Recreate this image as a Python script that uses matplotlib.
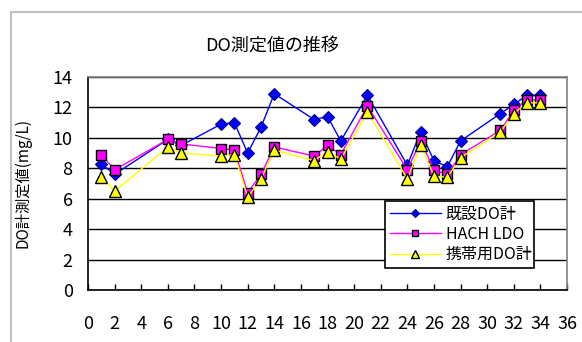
import matplotlib
matplotlib.use("Agg")
import matplotlib.pyplot as plt
from matplotlib.patches import Rectangle

plt.rcParams['font.family'] = ['Noto Sans CJK JP', 'DejaVu Sans']

# 測定日
days = [1, 2, 6, 7, 10, 11, 12, 13, 14, 17, 18, 19, 21, 24, 25, 26, 27, 28, 31, 32, 33, 34]
# 既設DO計
do_fixed = [8.3, 7.6, 9.9, 9.5, 10.9, 11.0, 9.0, 10.7, 12.9, 11.2, 11.4, 9.8, 12.8,
            8.2, 10.4, 8.5, 8.1, 9.8, 11.6, 12.2, 12.8, 12.8]
# HACH LDO
do_hach = [8.9, 7.9, 9.9, 9.6, 9.3, 9.2, 6.4, 7.6, 9.4, 8.8, 9.5, 8.9, 12.1,
           7.9, 9.8, 7.9, 7.6, 8.9, 10.5, 11.8, 12.5, 12.5]
# 携帯用DO計
do_portable = [7.4, 6.5, 9.4, 9.0, 8.8, 8.9, 6.1, 7.3, 9.2, 8.5, 9.1, 8.6, 11.7,
               7.3, 9.5, 7.5, 7.4, 8.7, 10.4, 11.6, 12.3, 12.3]

fig = plt.figure(figsize=(5.82, 3.42), dpi=100)
ax = fig.add_axes([88/582, 1-290/342, 479/582, 213/342])

# グラフエリアの枠
fig.patches.append(Rectangle((11/582, -0.1), 1.2, 1-12/342+0.1, transform=fig.transFigure,
                             fill=False, edgecolor='#c0c0c0', lw=1.5))

ax.plot(days, do_fixed, color='#0000ff', lw=1, marker='D', ms=6.5,
        mfc='#0000ff', mec='#000080', mew=0.8, label='既設DO計', zorder=3)
ax.plot(days, do_hach, color='#ff00ff', lw=1, marker='s', ms=7,
        mfc='#ff00ff', mec='black', mew=1, label='HACH LDO', zorder=4)
ax.plot(days, do_portable, color='#ffff00', lw=1, marker='^', ms=8,
        mfc='#ffff00', mec='black', mew=1, label='携帯用DO計', zorder=5)

ax.set_xlim(0, 36)
ax.set_ylim(0, 14)
ax.set_xticks(range(0, 37, 2))
ax.set_yticks(range(0, 15, 2))
ax.tick_params(axis='x', direction='in', length=4, width=1, pad=18, labelsize=13)
ax.tick_params(axis='y', length=0, pad=11, labelsize=13)
ax.grid(axis='y', color='black', lw=1)
ax.set_axisbelow(True)

ax.spines['left'].set_color('black')
ax.spines['bottom'].set_color('black')
ax.spines['top'].set_color('#808080')
ax.spines['right'].set_color('#808080')
for s in ax.spines.values():
    s.set_linewidth(1.2)

fig.text(272/582, 1-46/342, 'DO測定値の推移', ha='center', va='center', fontsize=13)
fig.text(23/582, 1-183/342, 'DO計測定値(mg/L)', ha='center', va='center',
         rotation=90, fontsize=11)

leg = ax.legend(loc='lower left', bbox_to_anchor=(0.603, 0.066, 0.345, 0.324),
                mode='expand', fancybox=False, framealpha=1, edgecolor='black',
                fontsize=11.5, markerscale=0.7, handlelength=3.2, handletextpad=0.3,
                labelspacing=0.2, borderpad=0.3)
leg.get_frame().set_linewidth(1.2)

fig.savefig('out.png', dpi=100)
